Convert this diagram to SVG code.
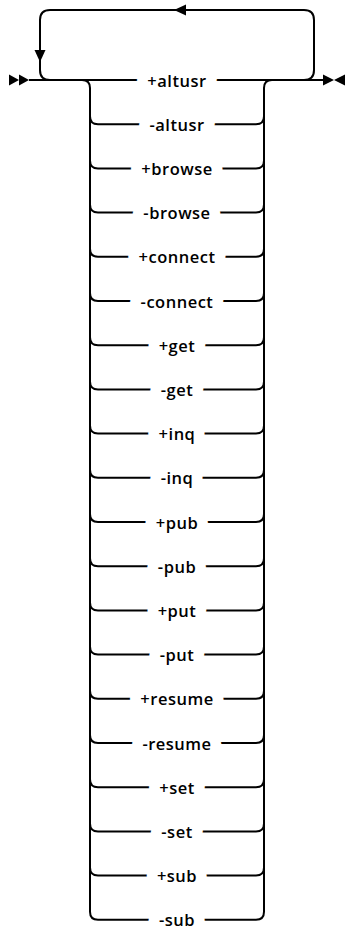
<svg xmlns="http://www.w3.org/2000/svg" width="346" height="934" viewBox="0 0 346 934">
<style>
.ln{fill:none;stroke:#000;stroke-width:2}
.ah{fill:#000;stroke:none}
.lb{font-family:"Open Sans","Noto Sans","Liberation Sans",sans-serif;font-size:16.5px;font-weight:600;letter-spacing:0.5px;fill:#000;stroke:#fff;stroke-width:22px;paint-order:stroke fill;stroke-linejoin:round;text-anchor:middle;dominant-baseline:central}
</style>
<rect width="346" height="934" fill="#fff"/>
<g id="connectors">
<path class="ln" d="M29 80 L323 80"/>
<path class="ln" d="M304 80 Q314 80 314 70 L314 20 Q314 10 304 10 L50 10 Q40 10 40 20 L40 70 Q40 80 50 80"/>
<polygon class="ah" points="174,10 186,4.5 186,15.5"/>
<polygon class="ah" points="40,62 34.5,50 45.5,50"/>
<polygon class="ah" points="9,74.5 19,80 9,85.5"/>
<polygon class="ah" points="19,74.5 29,80 19,85.5"/>
<polygon class="ah" points="323,74.5 334,80 323,85.5"/>
<polygon class="ah" points="345,74.5 334,80 345,85.5"/>
<path class="ln" d="M82 80 Q90 80 90 88 L90 911.8 Q90 919.8 98 919.8"/>
<path class="ln" d="M272 80 Q264 80 264 88 L264 911.8 Q264 919.8 256 919.8"/>
<path class="ln" d="M90 116.2 Q90 124.2 98 124.2 L256 124.2 Q264 124.2 264 116.2"/>
<path class="ln" d="M90 160.4 Q90 168.4 98 168.4 L256 168.4 Q264 168.4 264 160.4"/>
<path class="ln" d="M90 204.6 Q90 212.6 98 212.6 L256 212.6 Q264 212.6 264 204.6"/>
<path class="ln" d="M90 248.8 Q90 256.8 98 256.8 L256 256.8 Q264 256.8 264 248.8"/>
<path class="ln" d="M90 293 Q90 301 98 301 L256 301 Q264 301 264 293"/>
<path class="ln" d="M90 337.2 Q90 345.2 98 345.2 L256 345.2 Q264 345.2 264 337.2"/>
<path class="ln" d="M90 381.4 Q90 389.4 98 389.4 L256 389.4 Q264 389.4 264 381.4"/>
<path class="ln" d="M90 425.6 Q90 433.6 98 433.6 L256 433.6 Q264 433.6 264 425.6"/>
<path class="ln" d="M90 469.8 Q90 477.8 98 477.8 L256 477.8 Q264 477.8 264 469.8"/>
<path class="ln" d="M90 514 Q90 522 98 522 L256 522 Q264 522 264 514"/>
<path class="ln" d="M90 558.2 Q90 566.2 98 566.2 L256 566.2 Q264 566.2 264 558.2"/>
<path class="ln" d="M90 602.4 Q90 610.4 98 610.4 L256 610.4 Q264 610.4 264 602.4"/>
<path class="ln" d="M90 646.6 Q90 654.6 98 654.6 L256 654.6 Q264 654.6 264 646.6"/>
<path class="ln" d="M90 690.8 Q90 698.8 98 698.8 L256 698.8 Q264 698.8 264 690.8"/>
<path class="ln" d="M90 735 Q90 743 98 743 L256 743 Q264 743 264 735"/>
<path class="ln" d="M90 779.2 Q90 787.2 98 787.2 L256 787.2 Q264 787.2 264 779.2"/>
<path class="ln" d="M90 823.4 Q90 831.4 98 831.4 L256 831.4 Q264 831.4 264 823.4"/>
<path class="ln" d="M90 867.6 Q90 875.6 98 875.6 L256 875.6 Q264 875.6 264 867.6"/>
<path class="ln" d="M98 919.8 L256 919.8"/>
</g>
<g id="n-plus-altusr"><text class="lb" x="177" y="80">+altusr</text></g>
<g id="n-minus-altusr"><text class="lb" x="177" y="124.2">-altusr</text></g>
<g id="n-plus-browse"><text class="lb" x="177" y="168.4">+browse</text></g>
<g id="n-minus-browse"><text class="lb" x="177" y="212.6">-browse</text></g>
<g id="n-plus-connect"><text class="lb" x="177" y="256.8">+connect</text></g>
<g id="n-minus-connect"><text class="lb" x="177" y="301">-connect</text></g>
<g id="n-plus-get"><text class="lb" x="177" y="345.2">+get</text></g>
<g id="n-minus-get"><text class="lb" x="177" y="389.4">-get</text></g>
<g id="n-plus-inq"><text class="lb" x="177" y="433.6">+inq</text></g>
<g id="n-minus-inq"><text class="lb" x="177" y="477.8">-inq</text></g>
<g id="n-plus-pub"><text class="lb" x="177" y="522">+pub</text></g>
<g id="n-minus-pub"><text class="lb" x="177" y="566.2">-pub</text></g>
<g id="n-plus-put"><text class="lb" x="177" y="610.4">+put</text></g>
<g id="n-minus-put"><text class="lb" x="177" y="654.6">-put</text></g>
<g id="n-plus-resume"><text class="lb" x="177" y="698.8">+resume</text></g>
<g id="n-minus-resume"><text class="lb" x="177" y="743">-resume</text></g>
<g id="n-plus-set"><text class="lb" x="177" y="787.2">+set</text></g>
<g id="n-minus-set"><text class="lb" x="177" y="831.4">-set</text></g>
<g id="n-plus-sub"><text class="lb" x="177" y="875.6">+sub</text></g>
<g id="n-minus-sub"><text class="lb" x="177" y="919.8">-sub</text></g>
</svg>
